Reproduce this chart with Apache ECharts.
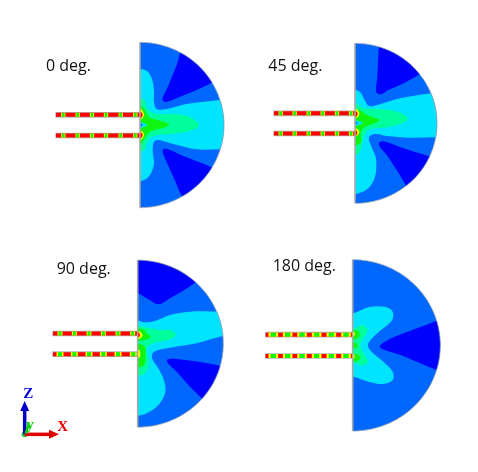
<!DOCTYPE html>
<html><head><meta charset="utf-8">
<style>html,body{margin:0;padding:0;background:#fff}#c{width:478px;height:472px}</style>
<script src="https://cdn.jsdelivr.net/npm/echarts@6/dist/echarts.min.js"></script>
</head><body><div id="c"></div>
<script>
// Colour bands of the contour plot
const BLUE='#0068FF',DARK='#0000FF',CYAN='#00E4FF',TEAL='#00FF9C',GREEN='#10F510',YELLOW='#FFFF00',RED='#FF0000',EDGE='#A8A8A8';

// Panel titles
const panelLabels=['0 deg.','45 deg.','90 deg.','180 deg.'];
const labelAnchors=[[48,109],[25,109],[80,58],[53,49]];

// Half-domain outline: flat x, centre y, x radius, y radius
const domains=[[330,285,252,248],[285,280,246,240],[323,281,257,250.5],[293,286,263,257]];

// Contour polygons, panel 0 deg
const p0DarkTop=[[455,60],[470,50],[570,140],[545,158],[500,180],[450,200],[408,216],[397,208],[410,178],[440,105]];
const p0DarkBot=[[398,360],[412,357],[460,378],[545,412],[570,430],[470,515],[455,497],[430,440],[405,385]];
const p0Cyan=[[310,117],[332,117],[352,124],[366,148],[372,182],[372,215],[380,237],[405,238],[470,222],[570,210],[620,205],[620,360],[570,358],[500,358],[430,342],[385,330],[372,335],[368,362],[372,400],[364,428],[348,447],[330,453],[310,453]];
const p0Teal=[[310,205],[332,205],[345,213],[351,235],[372,250],[420,252],[472,258],[506,282],[500,295],[470,305],[420,312],[370,318],[351,335],[345,358],[332,365],[310,365]];
const p0Green=[[310,228],[332,228],[345,240],[358,262],[390,272],[418,283],[395,295],[360,305],[345,325],[332,342],[310,342]];
const p0Yel1=[[320,236],[333,238],[342,254],[336,266],[320,268]];
const p0Yel2=[[320,302],[336,304],[342,316],[333,330],[320,332]];
const p0Red1=[[320,244],[331,244],[338,256],[331,265],[320,265]];
const p0Red2=[[320,306],[331,306],[338,315],[331,326],[320,326]];
const p0Hole=[[322,276],[338,278],[352,285],[338,292],[322,294]];
const p0Core=[[322,280],[335,281],[338,285],[335,289],[322,290]];

// Contour polygons, panel 45 deg
const p45DarkTop=[[358,40],[365,30],[500,120],[475,135],[440,155],[385,180],[362,193],[349,186],[352,140]];
const p45DarkBot=[[357,338],[372,334],[430,355],[505,378],[530,385],[450,490],[437,465],[410,420],[380,375],[360,350]];
const p45Cyan=[[265,180],[288,180],[302,188],[315,212],[327,228],[352,225],[420,205],[515,190],[560,188],[560,322],[525,322],[450,323],[380,318],[345,312],[327,322],[335,352],[348,385],[345,440],[325,475],[300,488],[265,490]];
const p45Teal=[[265,222],[290,222],[310,235],[370,238],[420,248],[443,265],[430,278],[380,292],[325,300],[311,320],[306,345],[298,368],[285,376],[265,376]];
const p45Green=[[265,238],[290,238],[304,243],[322,256],[358,270],[340,281],[316,290],[303,305],[303,335],[290,346],[265,346]];
const p45Yel1=[[275,237],[290,238],[298,250],[292,262],[275,264]];
const p45Yel2=[[275,295],[292,297],[298,307],[290,318],[275,320]];
const p45Red1=[[275,243],[287,243],[293,252],[287,261],[275,261]];
const p45Red2=[[275,300],[287,300],[292,308],[287,317],[275,317]];
const p45Hole=[[276,270],[293,272],[308,279],[293,286],[276,288]];
const p45Core=[[276,275],[290,276],[293,279],[290,282],[276,284]];

// Contour polygons, panel 90 deg
const p90DarkTop=[[300,20],[300,130],[323,130],[350,145],[385,163],[420,145],[497,97],[530,60],[450,10]];
const p90DarkBot=[[411,329],[440,327],[570,347],[600,360],[530,465],[515,445],[480,410],[440,365],[416,342]];
const p90Cyan=[[300,212],[325,212],[345,217],[375,213],[420,195],[480,185],[570,185],[610,185],[610,258],[578,258],[500,280],[420,293],[372,305],[366,325],[385,355],[403,395],[405,430],[385,465],[350,490],[325,497],[300,497]];
const p90Teal=[[300,232],[345,232],[385,240],[420,240],[437,254],[420,268],[370,280],[350,296],[356,340],[345,370],[325,378],[300,378]];
const p90Green1=[[300,238],[340,238],[350,250],[362,262],[340,271],[300,272]];
const p90Green2=[[300,285],[342,287],[347,312],[342,345],[325,352],[300,352]];
const p90Yel1=[[305,243],[328,244],[338,256],[328,266],[305,266]];
const p90Yel2=[[305,300],[326,298],[331,312],[326,325],[305,325]];
const p90Red1=[[305,245],[325,245],[330,258],[322,262],[305,262]];

// Contour polygons, panel 180 deg
const p180Dark=[[375,287],[545,212],[600,190],[600,385],[545,360],[450,320]];
const p180Cyan=[[270,190],[295,190],[340,172],[390,170],[413,185],[410,212],[372,245],[340,280],[345,300],[385,335],[413,365],[413,390],[385,402],[340,395],[295,380],[270,380]];
const p180Teal=[[275,235],[300,235],[320,225],[338,240],[326,262],[316,285],[326,310],[338,335],[320,347],[300,340],[275,340]];
const p180Green1=[[280,245],[310,243],[314,256],[305,266],[280,268]];
const p180Green2=[[280,280],[305,280],[306,292],[280,294]];
const p180Green3=[[280,312],[310,314],[316,325],[305,333],[280,333]];
const p180Yel1=[[285,246],[297,246],[300,253],[295,260],[285,260]];
const p180Yel2=[[285,313],[296,313],[299,320],[295,326],[285,326]];

const layersByPanel=[
 [[p0DarkTop,DARK],[p0DarkBot,DARK],[p0Cyan,CYAN],[p0Teal,TEAL],[p0Green,GREEN],[p0Yel1,YELLOW],[p0Yel2,YELLOW],[p0Red1,RED],[p0Red2,RED],[p0Hole,CYAN],[p0Core,BLUE]],
 [[p45DarkTop,DARK],[p45DarkBot,DARK],[p45Cyan,CYAN],[p45Teal,TEAL],[p45Green,GREEN],[p45Yel1,YELLOW],[p45Yel2,YELLOW],[p45Red1,RED],[p45Red2,RED],[p45Hole,CYAN],[p45Core,BLUE]],
 [[p90DarkTop,DARK],[p90DarkBot,DARK],[p90Cyan,CYAN],[p90Teal,TEAL],[p90Green1,GREEN],[p90Green2,GREEN],[p90Yel1,YELLOW],[p90Yel2,YELLOW],[p90Red1,RED]],
 [[p180Dark,DARK],[p180Cyan,CYAN],[p180Teal,TEAL],[p180Green1,GREEN],[p180Green2,GREEN],[p180Green3,GREEN],[p180Yel1,YELLOW],[p180Yel2,YELLOW]]
];

// Strips: x start, x end, centre y, band centres
const p0Strips=[[76,330,254.5,[100,143,186,228,272,316]],[76,330,316.5,[100,143,186,228,272,316]]];
const p45Strips=[[40,285,250,[62,104,146,188,231,273]],[40,285,310.5,[62,104,146,188,231,273]]];
const p90Strips=[[67,323,250.5,[90,133,177,220,264,308]],[67,323,312.5,[90,133,177,220,264,310]]];
const p180Strips=[[30,293,254,[55,98,141,185,229,273]],[30,293,318,[55,98,141,185,229,273]]];
const stripsByPanel=[p0Strips,p45Strips,p90Strips,p180Strips];
// band widths per panel: yellow, green
const bandWidths=[[[13,8],[13,8]],[[13,8],[13,8]],[[15,9],[21,12]],[[29,16],[29,16]]];

// Panel grid placement
const panelBoxes=[[30,30],[260,30],[30,250],[255,250]];

// Triad
const triadOrigin=[44,178];
const triadArrows=[[[44,178],[44,78],'#0000C8'],[[44,178],[147,178],'#E00000'],[[47,176],[57,144],'#00C800']];
const triadLabels=[['Z',55,58,'#0000E0'],['X',158,155,'#E00000'],['y',60,150,'#00D000']];

function halfOutline(api,d){
  const pts=[];
  for(let i=0;i<=72;i++){
    const a=-Math.PI/2+Math.PI*i/72;
    pts.push(api.coord([d[0]+d[2]*Math.cos(a),d[1]+d[3]*Math.sin(a)]));
  }
  return pts;
}
function panelSeries(k){
  return {
    type:'custom',xAxisIndex:k,yAxisIndex:k,coordinateSystem:'cartesian2d',clip:false,silent:true,
    data:[[0,0]],encode:{x:0,y:1},
    renderItem(params,api){
      const d=domains[k],outline=halfOutline(api,d);
      const children=[{type:'polygon',shape:{points:outline},style:{fill:BLUE}}];
      layersByPanel[k].forEach(l=>{
        children.push({type:'polygon',shape:{points:l[0].map(p=>api.coord(p)),smooth:0.35},style:{fill:l[1]}});
      });
      const clipped={type:'group',children,clipPath:{type:'polygon',shape:{points:outline}}};
      const strips=[];
      stripsByPanel[k].forEach((s,si)=>{
        const r=(x0,x1,h,c)=>{
          const a=api.coord([x0,s[2]-h/2]),b=api.coord([x1,s[2]+h/2]);
          strips.push({type:'rect',shape:{x:a[0],y:a[1],width:b[0]-a[0],height:b[1]-a[1]},style:{fill:c}});
        };
        r(s[0],s[1],17,'#B4B4B4');
        r(s[0]+2,s[1],12,RED);
        const w=bandWidths[k][si];
        s[3].forEach(c=>{r(c-w[0]/2,Math.min(c+w[0]/2,s[1]),12,YELLOW);});
        s[3].forEach(c=>{r(c-w[1]/2,Math.min(c+w[1]/2,s[1]),12,GREEN);});
      });
      const a=api.coord([d[0],d[1]-d[3]]),b=api.coord([d[0],d[1]+d[3]]);
      const edge=[
        {type:'polyline',shape:{points:outline},style:{fill:null,stroke:'#8C9CB0',lineWidth:0.8}},
        {type:'line',shape:{x1:a[0],y1:a[1],x2:b[0],y2:b[1]},style:{stroke:EDGE,lineWidth:1.6}}
      ];
      const lp=api.coord(labelAnchors[k]);
      const txt={type:'text',style:{x:lp[0],y:lp[1],text:panelLabels[k],fill:'#111',font:'16px "Open Sans"',verticalAlign:'middle'}};
      return {type:'group',children:[clipped,...strips,...edge,txt]};
    }
  };
}
const triadSeries={
  type:'custom',xAxisIndex:4,yAxisIndex:4,coordinateSystem:'cartesian2d',clip:false,silent:true,
  data:[[0,0]],encode:{x:0,y:1},
  renderItem(params,api){
    const ch=[];
    const o=api.coord(triadOrigin);
    ch.push({type:'circle',shape:{cx:o[0],cy:o[1],r:3},style:{fill:'#20D040'}});
    triadArrows.forEach(t=>{
      const a=api.coord(t[0]),b=api.coord(t[1]);
      const dx=b[0]-a[0],dy=b[1]-a[1],L=Math.hypot(dx,dy),ux=dx/L,uy=dy/L;
      const big=L>15,head=big?10:3,wid=big?4.5:2;
      ch.push({type:'line',shape:{x1:a[0],y1:a[1],x2:b[0]-ux*head,y2:b[1]-uy*head},style:{stroke:t[2],lineWidth:big?3.5:2.5}});
      ch.push({type:'polygon',shape:{points:[[b[0],b[1]],[b[0]-ux*head-uy*wid,b[1]-uy*head+ux*wid],[b[0]-ux*head+uy*wid,b[1]-uy*head-ux*wid]]},style:{fill:t[2]}});
    });
    triadLabels.forEach(l=>{
      const p=api.coord([l[1],l[2]]);
      ch.push({type:'text',style:{x:p[0],y:p[1],text:l[0],fill:l[3],font:'bold 15px "Liberation Serif"',align:'center',verticalAlign:'middle'}});
    });
    return {type:'group',children:ch};
  }
};
const boxes=panelBoxes.map(b=>[b[0],b[1],210,190,630,570]).concat([[10,375,70,70,210,210]]);
const chart=echarts.init(document.getElementById('c'),null,{renderer:'canvas'});
chart.setOption({
  animation:false,backgroundColor:'#fff',
  grid:boxes.map(b=>({left:b[0],top:b[1],width:b[2],height:b[3],containLabel:false})),
  xAxis:boxes.map((b,i)=>({type:'value',gridIndex:i,min:0,max:b[4],show:false})),
  yAxis:boxes.map((b,i)=>({type:'value',gridIndex:i,min:0,max:b[5],inverse:true,show:false})),
  series:[0,1,2,3].map(panelSeries).concat([triadSeries])
});
</script></body></html>
